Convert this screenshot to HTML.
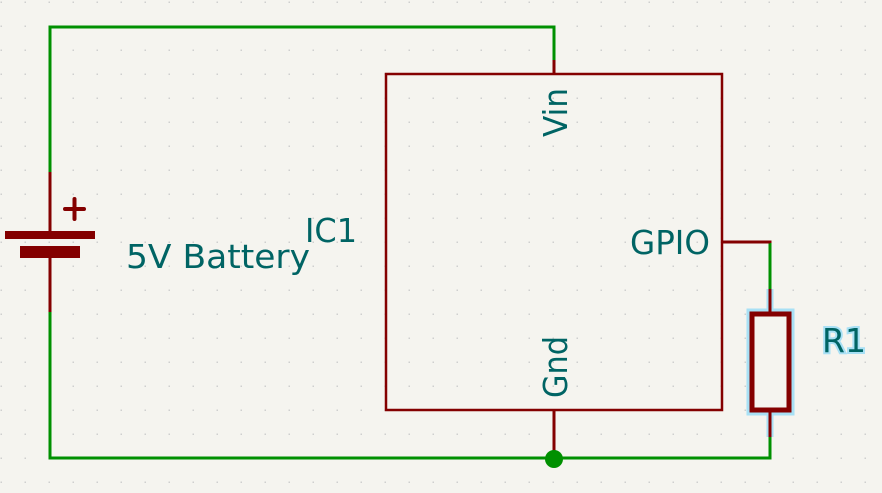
<!DOCTYPE html>
<html><head><style>html,body{margin:0;padding:0;background:#f5f4ef}svg{display:block}</style></head>
<body>
<svg width="882" height="493" viewBox="0 0 882 493" xmlns="http://www.w3.org/2000/svg" font-family="DejaVu Sans, Liberation Sans, sans-serif">
<defs>
<pattern id="g" x="0" y="1" width="24" height="24" patternUnits="userSpaceOnUse">
<rect x="0.5" y="0.5" width="1.5" height="1.5" fill="#cfcfcf"/>
</pattern>
</defs>
<rect width="882" height="493" fill="#f5f4ef"/>
<rect width="882" height="493" fill="url(#g)"/>
<g fill="none" stroke-linecap="butt">
<polyline points="50,172 50,27 554,27 554,60" stroke="#009000" stroke-width="3"/>
<polyline points="50,312 50,458 770,458 770,437" stroke="#009000" stroke-width="3"/>
<line x1="770" y1="242" x2="770" y2="289" stroke="#009000" stroke-width="3"/>
<line x1="554" y1="60" x2="554" y2="74" stroke="#840000" stroke-width="3"/>
<line x1="50" y1="172" x2="50" y2="231" stroke="#840000" stroke-width="3"/>
<line x1="50" y1="257" x2="50" y2="312" stroke="#840000" stroke-width="3"/>
<rect x="386" y="74" width="336" height="336" stroke="#840000" stroke-width="2.5"/>
<polyline points="722,242 770,242 770,243" stroke="#840000" stroke-width="3"/>
<line x1="554" y1="410" x2="554" y2="458" stroke="#840000" stroke-width="3"/>
<line x1="770" y1="289" x2="770" y2="437" stroke="#a8e0f5" stroke-width="7"/>
<rect x="751" y="313" width="39" height="98" stroke="#a8e0f5" stroke-width="9"/>
<line x1="770" y1="289" x2="770" y2="313" stroke="#840000" stroke-width="3"/>
<line x1="770" y1="411" x2="770" y2="437" stroke="#840000" stroke-width="3"/>
<rect x="752" y="314" width="37" height="96" stroke="#840000" stroke-width="5" fill="#f5f4ef"/>
</g>
<rect x="5" y="231" width="90" height="8" fill="#840000"/>
<rect x="20" y="246" width="60" height="12" fill="#840000"/>
<path d="M65,209 H84 M74.5,199 V219" stroke="#840000" stroke-width="4" stroke-linecap="round"/>
<circle cx="554" cy="459" r="9" fill="#009000"/>
<g fill="#006464" font-size="33">
<text x="126" y="268" textLength="184" lengthAdjust="spacingAndGlyphs">5V Battery</text>
<text x="305" y="242" textLength="52" lengthAdjust="spacingAndGlyphs">IC1</text>
<text x="630" y="254" textLength="80" lengthAdjust="spacingAndGlyphs">GPIO</text>
<text transform="translate(567,137) rotate(-90)" textLength="49" lengthAdjust="spacingAndGlyphs">Vin</text>
<text transform="translate(567,398) rotate(-90)" textLength="62" lengthAdjust="spacingAndGlyphs">Gnd</text>
<text x="822" y="352" textLength="44" lengthAdjust="spacingAndGlyphs" stroke="#a8e0f5" stroke-width="4" paint-order="stroke">R1</text>
</g>
</svg>
</body></html>
